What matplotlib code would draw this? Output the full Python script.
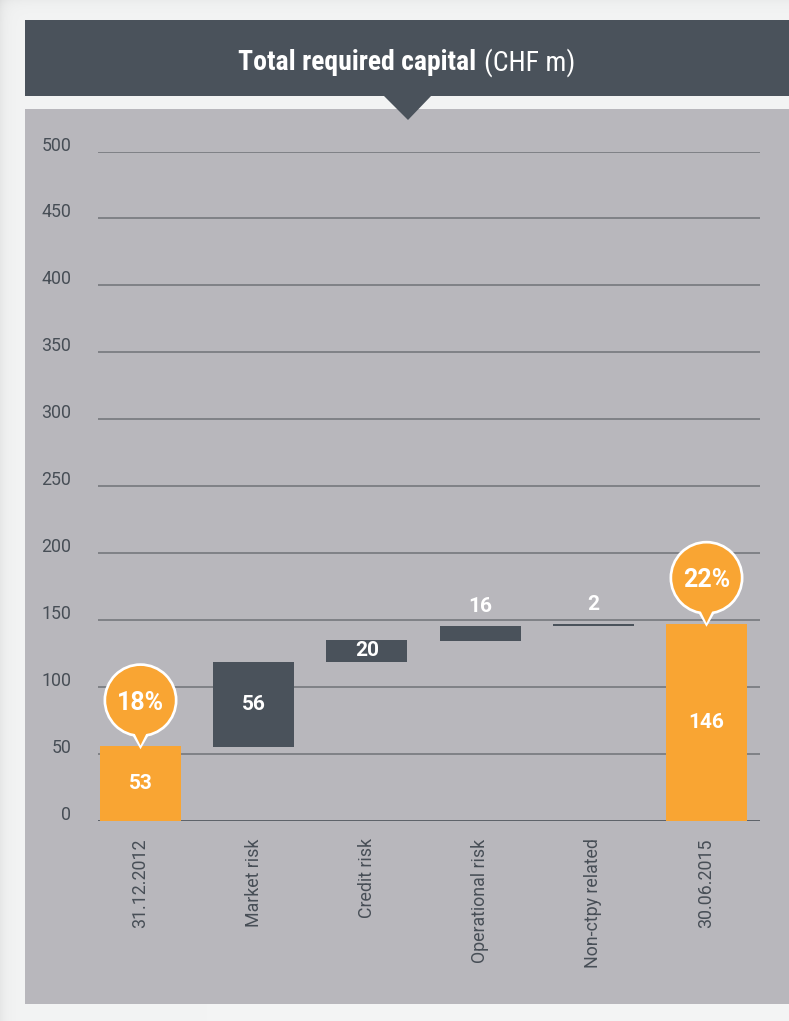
import matplotlib
matplotlib.use('Agg')
import matplotlib.pyplot as plt
import matplotlib.patches as mpatches
import matplotlib.transforms as mtransforms
from matplotlib import font_manager
import numpy as np

# ---------------- data ----------------
categories = ['31.12.2012', 'Market risk', 'Credit risk', 'Operational risk',
              'Non-ctpy related', '30.06.2015']
value_labels = ['53', '56', '20', '16', '2', '146']
bar_bottoms = [0, 55, 118.5, 134.5, 145, 0]
bar_tops = [55.5, 118.5, 135, 145, 146.5, 147]
is_total = [True, False, False, False, False, True]
ratio_labels = {0: '18%', 5: '22%'}
y_ticks = [0, 50, 100, 150, 200, 250, 300, 350, 400, 450, 500]
title_bold = 'Total required capital'
title_regular = '(CHF m)'

# ---------------- style ----------------
W, H = 789, 1021
BG = '#f3f4f4'
PANEL = '#b8b7bc'
DARK = '#4a525b'
ORANGE = '#f9a533'
TXT = '#474e56'
GRID = '#6f7277'


def has_font(name):
    try:
        font_manager.findfont(font_manager.FontProperties(family=name),
                              fallback_to_default=False)
        return True
    except Exception:
        return False


BODY = 'Roboto' if has_font('Roboto') else 'DejaVu Sans'
TITLE_FAM = BODY
for f in ['Liberation Sans Narrow', 'Roboto Condensed']:
    if has_font(f):
        TITLE_FAM = f
        break

fig = plt.figure(figsize=(W / 100, H / 100), dpi=100)
fig.patch.set_facecolor(BG)

# background with soft shadow at left/top edges
bg = np.ones((H, W, 3)) * np.array(matplotlib.colors.to_rgb(BG))
xx = np.arange(W)[None, :]
yy = np.arange(H)[:, None]
shade = 0.05 * np.exp(-xx / 6.0) + 0.03 * np.exp(-yy / 6.0)
bg = np.clip(bg - shade[..., None], 0, 1)
fig.figimage(bg, xo=0, yo=0, zorder=0)


def fx(x):
    return x / W


def fy(y):
    return 1 - y / H


# chart panel
fig.add_artist(mpatches.Rectangle((fx(25), fy(1004)), fx(789) - fx(25), fy(109) - fy(1004),
                                  transform=fig.transFigure, facecolor=PANEL,
                                  edgecolor='none', zorder=1))
# header
fig.add_artist(mpatches.Rectangle((fx(25), fy(96)), fx(789) - fx(25), fy(20) - fy(96),
                                  transform=fig.transFigure, facecolor=DARK,
                                  edgecolor='none', zorder=1))
fig.add_artist(mpatches.Polygon([(fx(383), fy(95)), (fx(432), fy(95)), (fx(408), fy(120))],
                                closed=True, transform=fig.transFigure, facecolor=DARK,
                                edgecolor='none', zorder=1.5))

# title (bold + regular), centred
renderer = fig.canvas.get_renderer()
t1 = fig.text(0, 0, title_bold, fontsize=10, weight='bold', family=TITLE_FAM, color='white',
              va='center', ha='left', zorder=3)
t2 = fig.text(0, 0, title_regular, fontsize=10, weight='normal', family=TITLE_FAM,
              color='white', va='center', ha='left', zorder=3)
w1 = t1.get_window_extent(renderer).width
w2 = t2.get_window_extent(renderer).width
gap = 3.0
target = 336.0
scale = (target) / (w1 + w2 + gap)
fs = 10 * scale
t1.set_fontsize(fs)
t2.set_fontsize(fs)
w1 = t1.get_window_extent(renderer).width
w2 = t2.get_window_extent(renderer).width
gap = 0.28 * fs * 100 / 72
x0 = 407 - (w1 + w2 + gap) / 2
t1.set_position((fx(x0), fy(63)))
t2.set_position((fx(x0 + w1 + gap), fy(63)))

# ---------------- axes ----------------
ax = fig.add_axes([fx(98), fy(820.5), fx(760) - fx(98), fy(151.5) - fy(820.5)], zorder=2)
ax.patch.set_visible(False)
ax.set_axis_off()
ax.set_xlim((98 - 140.5) / 113.2, (760 - 140.5) / 113.2)
ax.set_ylim(0, 500)

for t in y_ticks:
    if t == 0:
        ax.axhline(t, color='#555b62', lw=1.3, zorder=1)
    else:
        ax.axhline(t, color=GRID, lw=1.1, zorder=1)

ylab_trans = mtransforms.offset_copy(
    mtransforms.blended_transform_factory(fig.transFigure, ax.transData),
    fig=fig, x=0, y=6, units='dots')
for t in y_ticks:
    ax.text(fx(71.5), t, str(t), transform=ylab_trans, ha='right', va='center',
            fontsize=12.8, color=TXT, family=BODY, weight='normal', clip_on=False)

xs = np.arange(len(categories))
heights = [t - b for t, b in zip(bar_tops, bar_bottoms)]
colors = [ORANGE if tot else DARK for tot in is_total]
ax.bar(xs, heights, bottom=bar_bottoms, width=81 / 113.2, color=colors, zorder=2,
       linewidth=0)

above_trans = mtransforms.offset_copy(ax.transData, fig=fig, x=0, y=20, units='dots')
for i, lab in enumerate(value_labels):
    h = heights[i]
    if h >= 12:
        ax.text(xs[i], bar_bottoms[i] + h / 2, lab, ha='center', va='center', fontsize=15,
                weight='bold', color='white', family=BODY, zorder=4)
    else:
        ax.text(xs[i], bar_tops[i], lab, transform=above_trans, ha='center', va='center',
                fontsize=15, weight='bold', color='white', family=BODY, zorder=4,
                clip_on=False)

xlab_trans = mtransforms.offset_copy(ax.transData, fig=fig, x=0, y=-18, units='dots')
for i, cat in enumerate(categories):
    ax.text(xs[i], 0, cat, transform=xlab_trans, rotation=90, ha='center', va='top',
            fontsize=12.8, color=TXT, family=BODY, weight='normal', clip_on=False)


# speech bubbles
def bubble(x, ytop, text):
    tr = fig.dpi_scale_trans + mtransforms.ScaledTranslation(x, ytop, ax.transData)
    p = 0.01  # one pixel in inches
    cy = 46 * p
    ax.add_artist(mpatches.Circle((0, cy), 37 * p, transform=tr, facecolor='white',
                                  edgecolor='none', zorder=5, clip_on=False))
    ax.add_artist(mpatches.Polygon([(-11 * p, 16 * p), (11 * p, 16 * p), (0, -3 * p)],
                                   closed=True, transform=tr, facecolor='white',
                                   edgecolor='none', zorder=5, clip_on=False))
    ax.add_artist(mpatches.Circle((0, cy), 34.3 * p, transform=tr, facecolor=ORANGE,
                                  edgecolor='none', zorder=6, clip_on=False))
    ax.add_artist(mpatches.Polygon([(-7.5 * p, 16 * p), (7.5 * p, 16 * p), (0, 0.8 * p)],
                                   closed=True, transform=tr, facecolor=ORANGE,
                                   edgecolor='none', zorder=6, clip_on=False))
    ax.text(0, cy - 2.5 * p, text, transform=tr, ha='center', va='center', fontsize=18,
            weight='bold', color='white', family=BODY, zorder=7, clip_on=False)


for i, lab in ratio_labels.items():
    bubble(xs[i], bar_tops[i], lab)

fig.savefig('out.png', dpi=100, facecolor=fig.get_facecolor())
